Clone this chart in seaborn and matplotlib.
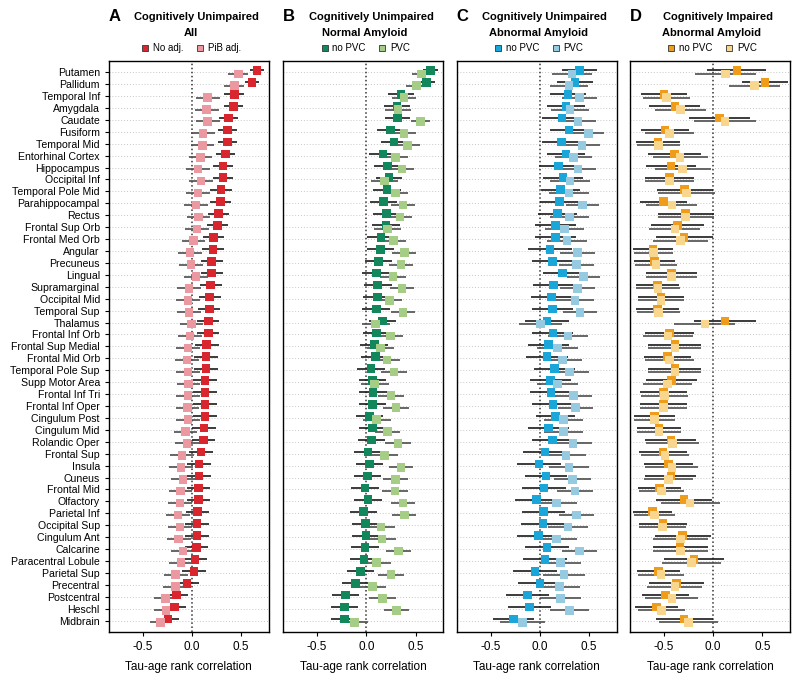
#Importing Modules
import numpy as np
import pandas as pd
import seaborn as sns
import matplotlib.pyplot as plt
from matplotlib.lines import Line2D


#Regions (top to bottom)
regions = ["Putamen", "Pallidum", "Temporal Inf", "Amygdala", "Caudate", "Fusiform",
           "Temporal Mid", "Entorhinal Cortex", "Hippocampus", "Occipital Inf",
           "Temporal Pole Mid", "Parahippocampal", "Rectus", "Frontal Sup Orb",
           "Frontal Med Orb", "Angular", "Precuneus", "Lingual", "Supramarginal",
           "Occipital Mid", "Temporal Sup", "Thalamus", "Frontal Inf Orb",
           "Frontal Sup Medial", "Frontal Mid Orb", "Temporal Pole Sup", "Supp Motor Area",
           "Frontal Inf Tri", "Frontal Inf Oper", "Cingulum Post", "Cingulum Mid",
           "Rolandic Oper", "Frontal Sup", "Insula", "Cuneus", "Frontal Mid", "Olfactory",
           "Parietal Inf", "Occipital Sup", "Cingulum Ant", "Calcarine",
           "Paracentral Lobule", "Parietal Sup", "Precentral", "Postcentral", "Heschl",
           "Midbrain"]

#Panel A - CU all
a_noadj = [0.66, 0.61, 0.43, 0.42, 0.37, 0.36, 0.36, 0.34, 0.315, 0.315, 0.295, 0.29,
           0.27, 0.26, 0.22, 0.215, 0.2, 0.2, 0.19, 0.18, 0.175, 0.165, 0.165, 0.15,
           0.14, 0.14, 0.13, 0.13, 0.13, 0.13, 0.12, 0.115, 0.09, 0.07, 0.07, 0.065,
           0.065, 0.055, 0.05, 0.05, 0.045, 0.03, 0.02, -0.05, -0.16, -0.18, -0.245]
a_pib = [0.47, 0.43, 0.16, 0.15, 0.16, 0.11, 0.105, 0.085, 0.06, 0.09, 0.06, 0.04,
         0.065, 0.05, 0.015, -0.02, -0.01, 0.04, -0.03, -0.04, -0.03, -0.005, -0.02,
         -0.04, -0.05, -0.04, -0.035, -0.04, -0.045, -0.04, -0.065, -0.05, -0.1, -0.11,
         -0.09, -0.115, -0.12, -0.14, -0.12, -0.135, -0.09, -0.11, -0.165, -0.17, -0.27,
         -0.265, -0.32]
a_noadj_err = [0.07, 0.07, 0.1, 0.1, 0.1, 0.1, 0.1, 0.1, 0.1, 0.1, 0.11, 0.11, 0.11,
               0.11, 0.11, 0.11, 0.11, 0.11, 0.11, 0.11, 0.11, 0.11, 0.11, 0.12, 0.12,
               0.12, 0.12, 0.12, 0.12, 0.12, 0.12, 0.12, 0.125, 0.12, 0.12, 0.12, 0.12,
               0.12, 0.12, 0.12, 0.12, 0.12, 0.12, 0.125, 0.12, 0.12, 0.11]
a_pib_err = [0.1, 0.1, 0.12, 0.12, 0.12, 0.12, 0.12, 0.12, 0.12, 0.12, 0.12, 0.12, 0.12,
             0.12, 0.12, 0.12, 0.12, 0.12, 0.12, 0.12, 0.12, 0.12, 0.12, 0.12, 0.12,
             0.12, 0.12, 0.12, 0.12, 0.12, 0.12, 0.12, 0.125, 0.12, 0.12, 0.12, 0.12,
             0.12, 0.12, 0.12, 0.12, 0.12, 0.12, 0.12, 0.12, 0.12, 0.11]

#Panel B - CU normal amyloid
b_nopvc = [0.65, 0.61, 0.35, 0.31, 0.315, 0.245, 0.28, 0.17, 0.215, 0.23, 0.21, 0.175,
           0.205, 0.2, 0.15, 0.145, 0.125, 0.1, 0.115, 0.11, 0.1, 0.165, 0.105, 0.08,
           0.09, 0.045, 0.06, 0.065, 0.06, 0.03, 0.06, 0.05, 0.017, 0.03, 0.013, -0.013,
           0.017, -0.03, -0.01, -0.003, -0.013, -0.024, -0.06, -0.11, -0.21, -0.225, -0.225]
b_pvc = [0.56, 0.51, 0.38, 0.32, 0.55, 0.38, 0.42, 0.295, 0.36, 0.185, 0.295, 0.37,
         0.34, 0.215, 0.275, 0.385, 0.35, 0.27, 0.36, 0.235, 0.37, 0.095, 0.245, 0.145,
         0.21, 0.28, 0.085, 0.25, 0.3, 0.105, 0.215, 0.32, 0.185, 0.35, 0.295, 0.29,
         0.37, 0.385, 0.15, 0.16, 0.325, 0.105, 0.25, 0.06, 0.165, 0.305, -0.12]
b_nopvc_err = [0.08, 0.09, 0.13, 0.13, 0.13, 0.14, 0.13, 0.14, 0.14, 0.13, 0.14, 0.14,
               0.14, 0.14, 0.14, 0.14, 0.14, 0.14, 0.14, 0.14, 0.14, 0.14, 0.14, 0.14,
               0.14, 0.14, 0.14, 0.14, 0.14, 0.14, 0.14, 0.14, 0.14, 0.14, 0.14, 0.14,
               0.14, 0.14, 0.14, 0.14, 0.14, 0.14, 0.14, 0.135, 0.135, 0.135, 0.13]
b_pvc_err = [0.1, 0.11, 0.125, 0.13, 0.1, 0.12, 0.12, 0.13, 0.12, 0.14, 0.13, 0.12,
             0.12, 0.14, 0.13, 0.12, 0.12, 0.13, 0.12, 0.13, 0.12, 0.14, 0.13, 0.14,
             0.13, 0.13, 0.14, 0.13, 0.13, 0.14, 0.13, 0.13, 0.14, 0.12, 0.13, 0.13,
             0.12, 0.12, 0.14, 0.14, 0.13, 0.14, 0.13, 0.14, 0.14, 0.13, 0.14]

#Panel C - CU abnormal amyloid
c_nopvc = [0.4, 0.355, 0.285, 0.265, 0.225, 0.295, 0.22, 0.265, 0.19, 0.235, 0.21, 0.2,
           0.18, 0.155, 0.155, 0.1, 0.125, 0.23, 0.135, 0.115, 0.125, 0.07, 0.13, 0.085,
           0.07, 0.145, 0.105, 0.11, 0.13, 0.16, 0.085, 0.125, 0.05, -0.01, 0.06, 0.04,
           -0.035, 0.035, 0.03, -0.015, 0.07, 0.05, -0.05, 0.0, -0.125, -0.105, -0.27]
c_pvc = [0.325, 0.295, 0.4, 0.305, 0.385, 0.49, 0.425, 0.34, 0.385, 0.305, 0.295, 0.43,
         0.3, 0.25, 0.275, 0.38, 0.37, 0.44, 0.38, 0.355, 0.405, 0.007, 0.285, 0.18,
         0.23, 0.3, 0.18, 0.34, 0.36, 0.24, 0.24, 0.335, 0.265, 0.295, 0.33, 0.355,
         0.165, 0.37, 0.285, 0.165, 0.4, 0.21, 0.245, 0.2, 0.21, 0.3, -0.175]
c_nopvc_err = [0.18, 0.18, 0.18, 0.19, 0.2, 0.19, 0.2, 0.19, 0.2, 0.2, 0.2, 0.2, 0.2,
               0.21, 0.21, 0.22, 0.21, 0.2, 0.21, 0.21, 0.21, 0.22, 0.21, 0.21, 0.21,
               0.21, 0.21, 0.21, 0.21, 0.2, 0.21, 0.21, 0.22, 0.22, 0.21, 0.22, 0.22,
               0.22, 0.22, 0.22, 0.22, 0.22, 0.22, 0.22, 0.22, 0.22, 0.21]
c_pvc_err = [0.2, 0.19, 0.18, 0.19, 0.18, 0.16, 0.18, 0.19, 0.18, 0.2, 0.2, 0.17, 0.2,
             0.2, 0.2, 0.18, 0.18, 0.17, 0.18, 0.19, 0.17, 0.22, 0.2, 0.21, 0.2, 0.2,
             0.21, 0.19, 0.18, 0.2, 0.2, 0.19, 0.2, 0.2, 0.19, 0.18, 0.21, 0.18, 0.2,
             0.21, 0.18, 0.21, 0.21, 0.21, 0.21, 0.2, 0.23]

#Panel D - CI abnormal amyloid
d_nopvc = [0.24, 0.525, -0.5, -0.39, 0.065, -0.49, -0.56, -0.395, -0.43, -0.445, -0.29,
           -0.505, -0.28, -0.365, -0.295, -0.61, -0.595, -0.425, -0.565, -0.53, -0.565,
           0.12, -0.445, -0.39, -0.465, -0.39, -0.425, -0.505, -0.505, -0.595, -0.55,
           -0.43, -0.51, -0.455, -0.43, -0.545, -0.295, -0.615, -0.51, -0.31, -0.335,
           -0.195, -0.555, -0.375, -0.485, -0.575, -0.295]
d_pvc = [0.125, 0.42, -0.475, -0.33, 0.12, -0.445, -0.555, -0.335, -0.31, -0.445, -0.27,
         -0.42, -0.28, -0.39, -0.33, -0.605, -0.58, -0.425, -0.56, -0.53, -0.555, -0.085,
         -0.46, -0.39, -0.445, -0.39, -0.465, -0.495, -0.505, -0.595, -0.55, -0.415,
         -0.49, -0.42, -0.455, -0.525, -0.235, -0.595, -0.515, -0.33, -0.33, -0.22,
         -0.53, -0.39, -0.42, -0.525, -0.25]
d_nopvc_err = [0.3, 0.235, 0.235, 0.26, 0.31, 0.24, 0.22, 0.27, 0.255, 0.25, 0.285,
               0.24, 0.285, 0.27, 0.29, 0.2, 0.21, 0.26, 0.22, 0.23, 0.22, 0.31, 0.25,
               0.27, 0.24, 0.27, 0.26, 0.24, 0.24, 0.21, 0.22, 0.26, 0.24, 0.25, 0.26,
               0.22, 0.285, 0.2, 0.24, 0.285, 0.28, 0.3, 0.22, 0.28, 0.24, 0.22, 0.29]
d_pvc_err = [0.31, 0.26, 0.24, 0.26, 0.31, 0.25, 0.22, 0.28, 0.285, 0.25, 0.29, 0.26,
             0.285, 0.26, 0.28, 0.2, 0.21, 0.26, 0.22, 0.23, 0.22, 0.31, 0.25, 0.27,
             0.25, 0.27, 0.25, 0.24, 0.24, 0.21, 0.22, 0.27, 0.24, 0.27, 0.25, 0.23,
             0.3, 0.21, 0.24, 0.28, 0.28, 0.3, 0.23, 0.28, 0.27, 0.24, 0.3]


sns.set_style("ticks")
plt.rcParams['font.family'] = ['Liberation Sans', 'DejaVu Sans']
plt.rcParams['text.color'] = 'black'
plt.rcParams['axes.labelcolor'] = 'black'
plt.rcParams['xtick.color'] = 'black'
plt.rcParams['ytick.color'] = 'black'

panels = [
    ("A", "Cognitively Unimpaired", "All", ["No adj.", "PiB adj."],
     a_noadj, a_pib, a_noadj_err, a_pib_err, ["#D9262E", "#EC98A0"]),
    ("B", "Cognitively Unimpaired", "Normal Amyloid", ["no PVC", "PVC"],
     b_nopvc, b_pvc, b_nopvc_err, b_pvc_err, ["#12875C", "#A6CD86"]),
    ("C", "Cognitively Unimpaired", "Abnormal Amyloid", ["no PVC", "PVC"],
     c_nopvc, c_pvc, c_nopvc_err, c_pvc_err, ["#1BA6DA", "#95CAE0"]),
    ("D", "Cognitively Impaired", "Abnormal Amyloid", ["no PVC", "PVC"],
     d_nopvc, d_pvc, d_nopvc_err, d_pvc_err, ["#EE9C1A", "#F8D68E"]),
]

fig = plt.figure(figsize=(8, 6.8), dpi=100)
lefts = [0.136, 0.354, 0.571, 0.7875]
n = len(regions)
ypos = np.arange(n)

for i, (letter, t1, t2, labels, v1, v2, e1, e2, cols) in enumerate(panels):
    ax = fig.add_axes([lefts[i], 0.0706, 0.2, 0.84])
    df = pd.DataFrame({
        "region": regions * 2,
        "rho": v1 + v2,
        "err": e1 + e2,
        "model": [labels[0]] * n + [labels[1]] * n,
        "y": list(ypos - 0.14) + list(ypos + 0.14),
    })

    ax.axvline(0, color="#333333", ls=":", lw=1.1, zorder=1)
    for lab, lc in zip(labels, ["#1a1a1a", "#4d4d4d"]):
        sub = df[df["model"] == lab]
        ax.hlines(sub["y"], sub["rho"] - sub["err"], sub["rho"] + sub["err"],
                  color=lc, lw=1.2, zorder=2)
    sns.scatterplot(data=df, x="rho", y="y", hue="model", palette=cols, marker="s",
                    s=38, linewidth=0, ax=ax, zorder=3, legend=False)

    ax.set_yticks(ypos)
    ax.grid(axis="y", ls=(0, (1, 2)), color="#c8c8c8", lw=0.7)
    ax.set_axisbelow(True)
    ax.set_ylim(n - 0.05, -0.95)
    ax.set_xlim(-0.845, 0.78)
    ax.set_xticks([-0.5, 0, 0.5])
    ax.set_xticklabels(["-0.5", "0.0", "0.5"], fontsize=8.5)
    ax.set_xlabel("Tau-age rank correlation", fontsize=8.5, labelpad=6)
    ax.set_ylabel("")
    if i == 0:
        ax.set_yticklabels(regions, fontsize=7.6)
        ax.tick_params(axis="y", length=3, width=0.8)
    else:
        ax.set_yticklabels([])
        ax.tick_params(axis="y", length=0)
    ax.tick_params(axis="x", length=3, width=0.8)
    for sp in ax.spines.values():
        sp.set_linewidth(1.0)
        sp.set_color("black")

    #Titles
    ax.text(0.0, 1.077, letter, transform=ax.transAxes, fontsize=12,
            fontweight="bold", ha="left", va="center")
    ax.text(0.55, 1.077, t1, transform=ax.transAxes, fontsize=8,
            fontweight="bold", ha="center", va="center")
    ax.text(0.51, 1.049, t2, transform=ax.transAxes, fontsize=8,
            fontweight="bold", ha="center", va="center")

    handles = [Line2D([], [], marker="s", ls="", markerfacecolor=c,
                      markeredgecolor="#333333", markeredgewidth=0.6, markersize=5)
               for c in cols]
    ax.legend(handles, labels, loc="center", bbox_to_anchor=(0.51, 1.022), ncol=2,
              frameon=False, fontsize=7, handletextpad=0.3, columnspacing=1.2,
              handlelength=1.0, borderaxespad=0, borderpad=0)

plt.savefig("out.png", dpi=100)
